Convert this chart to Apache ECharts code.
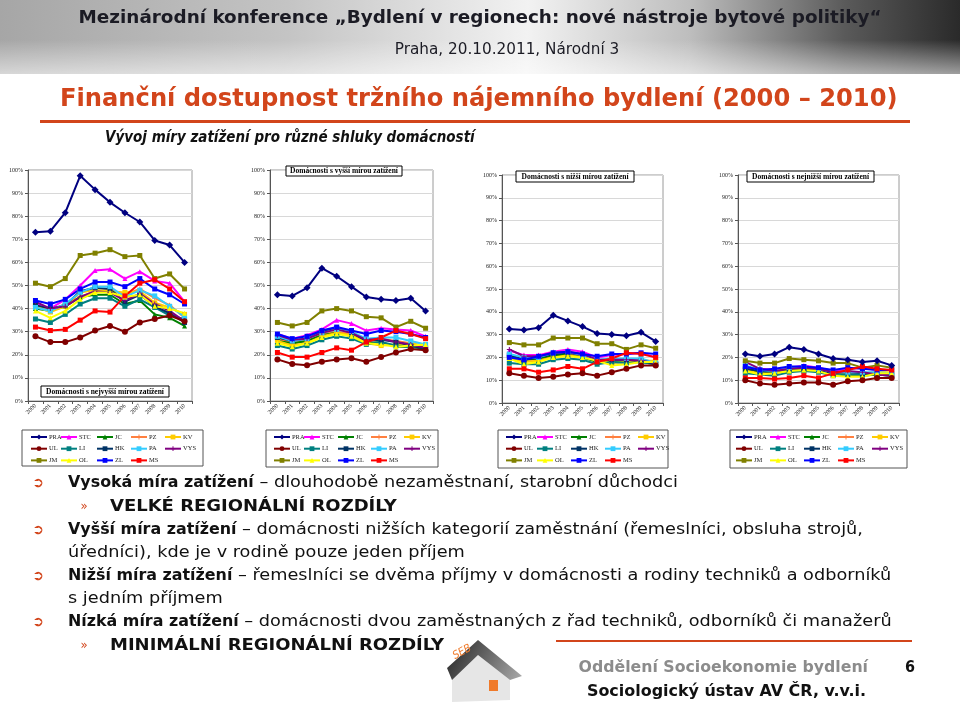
<!DOCTYPE html>
<html><head><meta charset="utf-8">
<script src="https://cdn.jsdelivr.net/npm/echarts@6/dist/echarts.min.js"></script>
<style>html,body{margin:0;padding:0;background:#fff}#c{width:960px;height:707px}</style>
</head><body><div id="c"></div>
<script>
// ---------- DATA ----------
const years = ['2000','2001','2002','2003','2004','2005','2006','2007','2008','2009','2010'];
const regions = ['PRA','STC','JC','PZ','KV','UL','LI','HK','PA','VYS','JM','OL','ZL','MS'];
const panelTitles = ['Domácnosti s nejvyšší mírou zatížení','Domácnosti s vyšší mírou zatížení','Domácnosti s nižší mírou zatížení','Domácnosti s nejnižší mírou zatížení'];

// rows in order of `regions`, values in %
const highestBurden = [
  [73, 73.5, 81.5, 97.5, 91.5, 86, 81.5, 77.5, 69.5, 67.5, 60],
  [42, 40, 44, 50, 56.5, 57, 53, 56, 52, 51, 43],
  [40, 39, 41, 45, 46, 46, 42, 43.5, 37.5, 36, 32.5],
  [42, 39, 42, 45, 47.5, 48, 46, 48.5, 44.5, 41.5, 36],
  [41, 38.5, 41, 47, 48, 47.5, 47, 47.5, 42.5, 40.5, 37.5],
  [28, 25.5, 25.5, 27.5, 30.5, 32.5, 30, 34, 35.5, 37, 34.5],
  [35.5, 34, 37.5, 42, 44.5, 44.5, 41, 44, 40.5, 37, 35.5],
  [41.5, 40, 41.5, 47.5, 49, 48.5, 43, 46, 41, 38, 34],
  [40.5, 39, 42, 47, 49.5, 49.5, 45, 48, 45.5, 41, 36.5],
  [43, 40, 41, 45, 47.5, 47, 43.5, 46.5, 42, 39, 34.5],
  [51, 49.5, 53, 63, 64, 65.5, 62.5, 63, 53, 55, 48.5],
  [39, 36, 39, 44, 47, 47, 45, 46, 41, 40, 38],
  [43.5, 42, 44, 48.5, 51.5, 51.5, 49.5, 53, 48.5, 46, 42],
  [32, 30.5, 31, 35, 39, 38.5, 45.5, 51, 52.5, 48.5, 43]
];
const higherBurden = [
  [46, 45.5, 49, 57.5, 54, 49.5, 45, 44, 43.5, 44.5, 39],
  [29, 27, 28.5, 31, 35, 33.5, 30.5, 31.5, 31, 30.5, 28],
  [26, 25, 26, 28.5, 29.5, 28, 25, 25.5, 23.5, 23.5, 22.5],
  [27, 25, 26, 29, 30, 29, 26, 27, 26, 25, 23],
  [26, 24, 25, 28, 29.5, 28.5, 25, 24, 24.5, 25, 24],
  [18, 16, 15.5, 17, 18, 18.5, 17, 19, 21, 22.5, 22],
  [24, 22.5, 24, 26.5, 28, 27, 24.5, 25.5, 24, 23.5, 23],
  [27.5, 26, 27, 30, 31.5, 29.5, 26, 26.5, 25.5, 24, 22.5],
  [28, 26, 27, 29.5, 31, 30, 27, 27.5, 27.5, 26, 24.5],
  [28.5, 26.5, 27, 29.5, 31, 29.5, 26.5, 27, 25.5, 24.5, 23],
  [34, 32.5, 34, 39, 40, 39, 36.5, 36, 32, 34.5, 31.5],
  [25, 23.5, 25, 27.5, 29, 28, 25, 24.5, 23.5, 24, 24.5],
  [29, 27, 28, 30.5, 32, 30.5, 29, 30.5, 30, 29, 27.5],
  [21, 19, 19, 21, 23, 22, 25.5, 27.5, 30.5, 29, 27]
];
const lowerBurden = [
  [32.5, 32, 33, 38.5, 36, 33.5, 30.5, 30, 29.5, 31, 27],
  [23, 21, 21, 22.5, 23.5, 22.5, 20, 21, 21.5, 22, 20],
  [20, 19, 19.5, 21, 21, 20, 18, 18.5, 18, 18, 17],
  [21, 19, 19, 20.5, 21.5, 20.5, 18.5, 18, 18, 19, 18],
  [20, 18, 18.5, 20, 21, 20, 19, 17.5, 18, 18.5, 18.5],
  [13, 12, 11, 11.5, 12.5, 13, 12, 13.5, 15, 16.5, 16.5],
  [17.5, 17, 17, 19, 19.5, 19, 17, 18, 17.5, 18, 17],
  [21, 19, 20, 21.5, 22, 21, 18.5, 19, 19, 18.5, 17],
  [21.5, 20, 20, 22, 22.5, 21, 19, 19.5, 19.5, 19.5, 17.5],
  [23.5, 20.5, 20.5, 22, 22.5, 21.5, 19, 19, 19, 18.5, 17.5],
  [26.5, 25.5, 25.5, 28.5, 28.5, 28.5, 26, 26, 23.5, 25.5, 24],
  [19.5, 17, 18, 20, 20.5, 20, 18.5, 16.5, 17, 18, 18],
  [20, 19, 20.5, 22, 22.5, 21.5, 20.5, 21.5, 21.5, 22, 21.5],
  [15, 15, 13.5, 14.5, 16, 15, 18, 19.5, 22, 21.5, 20]
];
const lowestBurden = [
  [21.5, 20.5, 21.5, 24.5, 23.5, 21.5, 19.5, 19, 18, 18.5, 16.5],
  [15.5, 15, 14.5, 15.5, 16.5, 15.5, 14, 15, 15.5, 14.5, 14.5],
  [14.5, 13.5, 13, 14.5, 14.5, 14, 12.5, 12.5, 12, 12.5, 12],
  [15, 14, 13.5, 15, 15, 14.5, 13, 13.5, 13, 13.5, 13],
  [14.5, 13, 13, 14, 14.5, 14, 13, 12.5, 12.5, 13.5, 13.5],
  [10, 8.5, 8, 8.5, 9, 9, 8, 9.5, 10, 11, 11],
  [13, 12.5, 12, 13.5, 14, 13.5, 12, 12.5, 12.5, 12.5, 12.5],
  [15, 14, 13.5, 15, 15, 14.5, 13, 13.5, 13, 12.5, 12],
  [16.5, 14.5, 14, 15.5, 16, 15, 13.5, 13.5, 13.5, 13.5, 13],
  [18, 15, 14, 15, 15.5, 15, 13.5, 14, 13.5, 12.5, 12],
  [18.5, 17.5, 17.5, 19.5, 19, 18.5, 17.5, 17.5, 15.5, 16.5, 15.5],
  [14, 12.5, 13, 14, 14.5, 14, 12, 11.5, 11.5, 13, 13],
  [16, 14.5, 15, 16, 16, 15.5, 14.5, 15.5, 15, 14.5, 14.5],
  [11, 11, 10.5, 11, 12, 11, 13, 14.5, 16, 15, 14.5]
];
const panels = [highestBurden, higherBurden, lowerBurden, lowestBurden];

// ---------- STYLE / LAYOUT ----------
const PLUS = 'path://M4,0H6V4H10V6H6V10H4V6H0V4H4Z';
const regionStyle = {
  PRA:{c:'#000080',s:'diamond',z:7}, STC:{c:'#FF00FF',s:'triangle',z:5}, JC:{c:'#008000',s:'triangle',z:5},
  PZ:{c:'#FF8040',s:PLUS,z:4}, KV:{c:'#FFCC00',s:'rect',z:5}, UL:{c:'#800000',s:'circle',z:6},
  LI:{c:'#008080',s:'rect',z:5}, HK:{c:'#003366',s:'rect',z:5}, PA:{c:'#33CCFF',s:'rect',z:5},
  VYS:{c:'#800080',s:PLUS,z:5}, JM:{c:'#808000',s:'rect',z:5}, OL:{c:'#FFFF00',s:'triangle',z:5},
  ZL:{c:'#0000FF',s:'rect',z:5}, MS:{c:'#FF0000',s:'rect',z:5}
};
const grids = [
  {left:28, top:170, width:164, height:231},
  {left:270, top:170, width:163, height:231},
  {left:502, top:175, width:161, height:228},
  {left:738, top:175, width:161, height:228}
];
const titleBoxes = [
  {x:41, y:386, w:128, h:11},
  {x:286, y:166, w:116, h:10},
  {x:516, y:171, w:118, h:11},
  {x:747, y:171, w:127, h:11}
];
const legendBoxes = [
  {x:22, y:430, w:181, h:36, cols:[8,38,74,108,142]},
  {x:266, y:430, w:172, h:37, cols:[7,37,71,104,137]},
  {x:498, y:430, w:170, h:38, cols:[7,38,72,106,139]},
  {x:730, y:430, w:177, h:38, cols:[5,39,73,107,141]}
];
const legendCols = [['PRA','UL','JM'],['STC','LI','OL'],['JC','HK','ZL'],['PZ','PA','MS'],['KV','VYS']];

const SERIF = 'Liberation Serif';
const SANS = 'DejaVu Sans Condensed';
const ORANGE = '#D2451B';

const mctx = document.createElement('canvas').getContext('2d');
function textWidth(t, size, weight, family){ mctx.font = (weight||'normal')+' '+size+'px "'+family+'"'; return mctx.measureText(t).width; }

const chart = echarts.init(document.getElementById('c'), null, {renderer:'canvas'});
const gridOpt = [], xAxes = [], yAxes = [], series = [], legends = [], graphics = [];

function txt(t, x, y, o){
  return {type:'text', z:o.z||10, x:x, y:y, scaleX:o.sx||1, scaleY:1,
    style:{text:t, x:0, y:0, align:o.align||'left', verticalAlign:'middle', fontFamily:o.family||SANS,
      fontWeight:o.weight||'normal', fontStyle:o.style||'normal', fontSize:o.size, fill:o.fill||'#111'}};
}

// slide background
graphics.push({type:'rect', z:-10, shape:{x:0,y:0,width:960,height:74},
  style:{fill:new echarts.graphic.LinearGradient(0,0,1,0.3,[
    {offset:0,color:'#a6a6a6'},{offset:0.3,color:'#c4c4c4'},{offset:0.55,color:'#f2f2f2'},
    {offset:0.72,color:'#bdbdbd'},{offset:0.88,color:'#5a5a5a'},{offset:1,color:'#2a2a2a'}])}});
graphics.push({type:'rect', z:-9, shape:{x:0,y:40,width:960,height:34},
  style:{fill:new echarts.graphic.LinearGradient(0,0,0,1,[
    {offset:0,color:'rgba(255,255,255,0)'},{offset:1,color:'rgba(255,255,255,0.55)'}])}});
graphics.push(txt('Mezinárodní konference „Bydlení v regionech: nové nástroje bytové politiky“', 480, 18,
  {align:'center', weight:'bold', size:18, sx:1.135, fill:'#1b1b24'}));
graphics.push(txt('Praha, 20.10.2011, Národní 3', 507, 50, {align:'center', size:16, sx:1.06, fill:'#1b1b24'}));
graphics.push(txt('Finanční dostupnost tržního nájemního bydlení (2000 – 2010)', 60, 100,
  {weight:'bold', size:24, sx:1.12, fill:ORANGE}));
graphics.push({type:'rect', z:10, shape:{x:40,y:120,width:870,height:3}, style:{fill:ORANGE}});
graphics.push(txt('Vývoj míry zatížení pro různé shluky domácností', 105, 138,
  {weight:'bold', style:'italic', size:15, fill:'#111'}));

// bullets
const FS = 15.5;
const bullets = [
  {arrow:true, y:483, x:68, parts:[['Vysoká míra zatížení','b'],[' – dlouhodobě nezaměstnaní, starobní důchodci','r']]},
  {sub:true, y:507, x:110, parts:[['VELKÉ REGIONÁLNÍ ROZDÍLY','B']]},
  {arrow:true, y:530, x:68, parts:[['Vyšší míra zatížení','b'],[' – domácnosti nižších kategorií zaměstnání (řemeslníci, obsluha strojů,','r']]},
  {y:553, x:68, parts:[['úředníci), kde je v rodině pouze jeden příjem','r']]},
  {arrow:true, y:576, x:68, parts:[['Nižší míra zatížení','b'],[' – řemeslníci se dvěma příjmy v domácnosti a rodiny techniků a odborníků','r']]},
  {y:599, x:68, parts:[['s jedním příjmem','r']]},
  {arrow:true, y:622, x:68, parts:[['Nízká míra zatížení','b'],[' – domácnosti dvou zaměstnaných z řad techniků, odborníků či manažerů','r']]},
  {sub:true, y:646, x:110, parts:[['MINIMÁLNÍ REGIONÁLNÍ ROZDÍLY','B']]}
];
const partScale = {b:1.14, B:1.29, r:1.27};
bullets.forEach(b => {
  if (b.arrow) graphics.push(txt('➲', 38, b.y, {align:'center', family:'DejaVu Sans', size:14, fill:ORANGE}));
  if (b.sub) graphics.push(txt('»', 84, b.y, {align:'center', size:13, fill:ORANGE}));
  let cx = b.x;
  b.parts.forEach(([t, k]) => {
    const w = k === 'r' ? 'normal' : 'bold';
    graphics.push(txt(t, cx, b.y, {weight:w, size:FS, sx:partScale[k]}));
    cx += textWidth(t, FS, w, SANS) * partScale[k];
  });
});

// footer
graphics.push({type:'rect', z:10, shape:{x:556,y:640,width:356,height:2}, style:{fill:ORANGE}});
graphics.push(txt('Oddělení Socioekonomie bydlení', 868, 668, {align:'right', weight:'bold', size:16, sx:1.094, fill:'#8c8c8c'}));
graphics.push(txt('Sociologický ústav AV ČR, v.v.i.', 866, 692, {align:'right', weight:'bold', size:16, sx:1.107, fill:'#111'}));
graphics.push(txt('6', 910, 668, {align:'center', weight:'bold', size:16, fill:'#111'}));
// logo
graphics.push({type:'polygon', z:10, shape:{points:[[447,668],[478,640],[522,676],[510,680],[478,655],[452,680]]},
  style:{fill:new echarts.graphic.LinearGradient(0,0,1,1,[{offset:0,color:'#222'},{offset:1,color:'#aaa'}])}});
graphics.push({type:'polygon', z:9, shape:{points:[[452,680],[478,655],[510,680],[510,700],[452,702]]}, style:{fill:'#e6e6e6'}});
graphics.push({type:'rect', z:10, shape:{x:489,y:680,width:9,height:11}, style:{fill:'#F07A2A'}});
graphics.push({type:'text', z:10, x:462, y:652, rotation:0.5,
  style:{text:'SEB', x:0, y:0, align:'center', verticalAlign:'middle', fontFamily:SANS, fontSize:11, fontStyle:'italic', fill:'#F07A2A'}});

panels.forEach((rows, p) => {
  const g = grids[p];
  gridOpt.push({left:g.left, top:g.top, width:g.width, height:g.height, show:true,
    borderColor:'#9a9a9a', borderWidth:1, backgroundColor:'#fff'});
  xAxes.push({type:'category', gridIndex:p, data:years, boundaryGap:true,
    axisLine:{lineStyle:{color:'#555', width:1}}, axisTick:{show:true, interval:0, length:3, lineStyle:{color:'#555'}},
    axisLabel:{interval:0, rotate:45, fontSize:6, fontFamily:SERIF, color:'#222', margin:4}});
  yAxes.push({type:'value', gridIndex:p, min:0, max:100, interval:10,
    axisLine:{show:true, lineStyle:{color:'#555', width:1}}, axisTick:{show:true, length:3, lineStyle:{color:'#555'}},
    splitLine:{lineStyle:{color:'#d8d8d8', width:1}},
    axisLabel:{formatter:'{value}%', fontSize:6, fontFamily:SERIF, color:'#222', margin:5}});
  rows.forEach((vals, r) => {
    const name = regions[r], st = regionStyle[name];
    series.push({type:'line', name, xAxisIndex:p, yAxisIndex:p, data:vals, z:st.z,
      symbol:st.s, symbolSize: st.s==='diamond'?7:(st.s==='circle'?6:5), showSymbol:true,
      lineStyle:{width:2, color:st.c}, itemStyle:{color:st.c}, animation:false});
  });
  const tb = titleBoxes[p];
  graphics.push({type:'rect', z:20, shape:{x:tb.x, y:tb.y, width:tb.w, height:tb.h},
    style:{fill:'#fff', stroke:'#000', lineWidth:1}});
  graphics.push({type:'text', z:21, style:{text:panelTitles[p], x:tb.x+tb.w/2, y:tb.y+tb.h/2+0.5, align:'center', verticalAlign:'middle',
    fontFamily:SERIF, fontWeight:'bold', fontSize:7.5, fill:'#000'}});
  const lb = legendBoxes[p];
  graphics.push({type:'rect', z:-1, shape:{x:lb.x, y:lb.y, width:lb.w, height:lb.h},
    style:{fill:'#fff', stroke:'#555', lineWidth:1}});
  legendCols.forEach((col, ci) => {
    legends.push({show:true, orient:'vertical', left:lb.x+lb.cols[ci], top:lb.y+3, padding:0,
      itemWidth:16, itemHeight:6, itemGap:3.7, data:col, selectedMode:false,
      textStyle:{fontSize:6.5, fontFamily:SERIF, color:'#222', lineHeight:8, padding:[0,0,0,-3]}});
  });
});

chart.setOption({
  animation:false,
  backgroundColor:'#ffffff',
  grid:gridOpt, xAxis:xAxes, yAxis:yAxes, series, legend:legends, graphic:graphics
});
</script></body></html>
